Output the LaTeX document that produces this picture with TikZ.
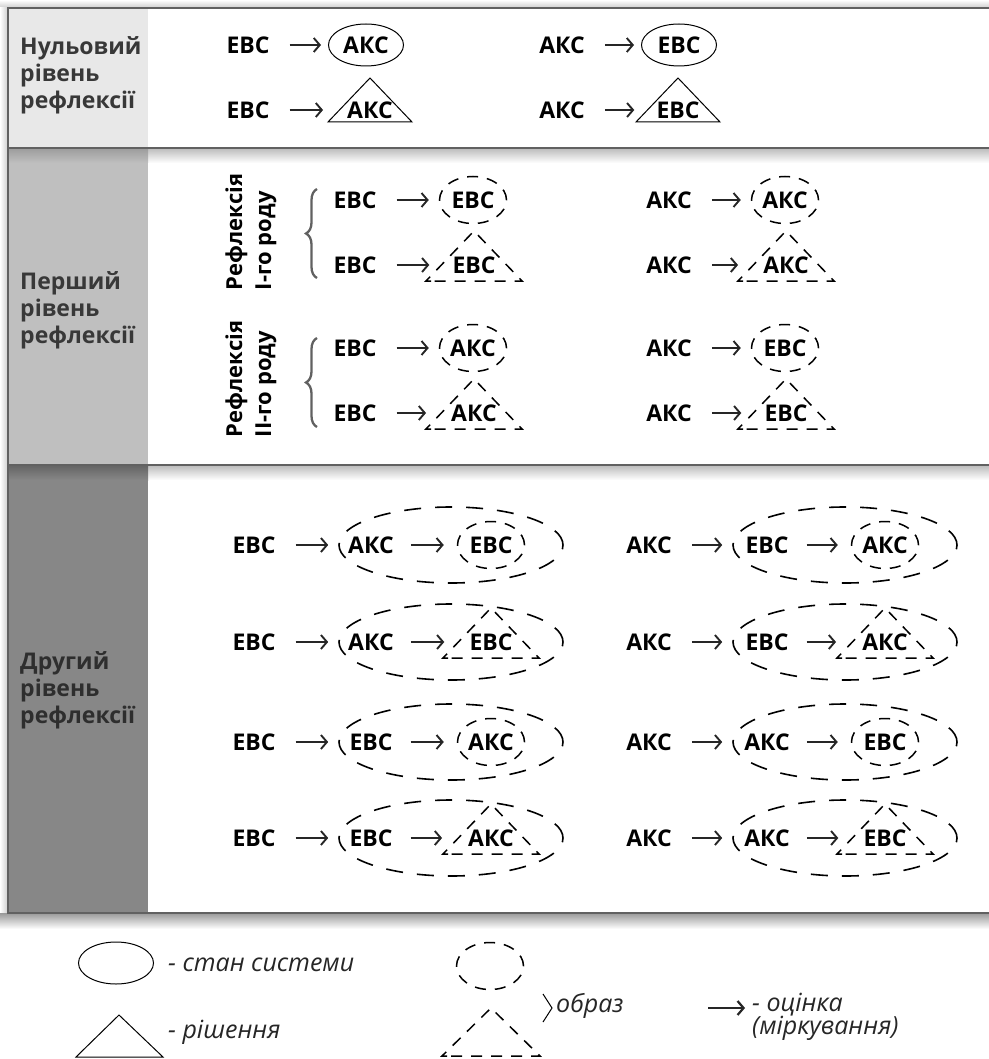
\documentclass[tikz,border=0pt]{standalone}
\usepackage{fontspec}
\setmainfont{Open Sans}
\usetikzlibrary{shapes.geometric,arrows.meta,calc,decorations.pathreplacing}

\tikzset{
  lbl/.style={font=\fontsize{23}{27}\selectfont\bfseries, inner sep=0pt},
  lvl/.style={font=\fontsize{23}{27}\selectfont\bfseries, text=black!78, align=left, anchor=west, inner sep=0pt},
  kind/.style={font=\fontsize{22}{29}\selectfont\bfseries, align=left, rotate=90, inner sep=0pt},
  leg/.style={font=\fontsize{25}{23}\selectfont\itshape, text=black!85, align=left, inner sep=0pt},
  arr/.style={line width=1.9pt, draw=black!85, -{Straight Barb[length=6pt,width=14pt]}},
  link/.style={arr, shorten <=20pt, shorten >=7pt},
  stell/.style={lbl, ellipse, draw, line width=1pt, minimum width=75pt, minimum height=42pt},
  imgline/.style={line width=1.5pt, dash pattern=on 11pt off 9pt},
  imgell/.style={lbl, ellipse, draw, imgline, minimum width=67pt, minimum height=47pt},
  bigell/.style={ellipse, draw, line width=1.6pt, dash pattern=on 17pt off 14pt, minimum width=224pt, minimum height=76pt, inner sep=0pt},
  rim/.style={line width=1.6pt, draw=black!62},
  brc/.style={decorate, decoration={brace, amplitude=11pt}, line width=2.3pt, draw=black!62}
}

\newcommand{\soltri}[1]{\draw[line width=1pt] ($(#1)+(-42,12)$) -- ($(#1)+(0,-32)$) -- ($(#1)+(42,12)$) -- cycle;}
\newcommand{\imgtri}[1]{\draw[imgline] ($(#1)+(-43,16)$) -- ($(#1)+(-48,16)$) -- ($(#1)+(0,-34)$) -- ($(#1)+(48,16)$) -- cycle;}

\begin{document}
\begin{tikzpicture}[x=1pt,y=-1pt]
  \useasboundingbox (0,0) rectangle (988,1059);

  %---------------------
  % table background
  %---------------------
  \fill[black!9] (8,8) rectangle (148,148);
  \fill[black!25] (8,148) rectangle (148,465);
  \fill[black!47] (8,465) rectangle (148,913);

  % shadows
  \shade[top color=white, bottom color=black!20] (0,0) rectangle (990,8);
  \shade[left color=white, right color=black!20] (0,8) rectangle (8,925);
  \shade[top color=black!40, bottom color=white] (0,913) rectangle (990,929);
  \shade[top color=black!25, bottom color=white] (148,149) rectangle (990,163);
  \shade[top color=black!38, bottom color=black!25] (8,149) rectangle (148,163);
  \shade[top color=black!25, bottom color=white] (148,466) rectangle (990,480);
  \shade[top color=black!60, bottom color=black!47] (8,466) rectangle (148,480);

  % lines
  \draw[rim] (990,8) -- (8,8) -- (8,913) -- (990,913);
  \draw[rim] (8,148) -- (990,148);
  \draw[rim] (8,465) -- (990,465);

  % level labels
  \node[lvl] (lv0) at (20,75) {Нульовий\\рівень\\рефлексії};
  \node[lvl] (lv1) at (20,310) {Перший\\рівень\\рефлексії};
  \node[lvl, text=black!82] (lv2) at (20,690) {Другий\\рівень\\рефлексії};

  %---------------------
  % zero level
  %---------------------
  \node[lbl] (n1) at (248,45) {ЕВС};
  \node[stell] (n1a) at (366,45) {АКС};
  \draw[link] (n1) -- (n1a);

  \node[lbl] (n2) at (248,110) {ЕВС};
  \node[lbl] (n2a) at (370,110) {АКС};
  \soltri{n2a}
  \draw[link, shorten >=24pt] (n2) -- (n2a);

  \node[lbl] (n3) at (562,45) {АКС};
  \node[stell] (n3a) at (679,45) {ЕВС};
  \draw[link] (n3) -- (n3a);

  \node[lbl] (n4) at (562,110) {АКС};
  \node[lbl] (n4a) at (678,110) {ЕВС};
  \soltri{n4a}
  \draw[link, shorten >=22pt] (n4) -- (n4a);

  %---------------------
  % first level
  %---------------------
  \node[kind] (k1) at (251,232) {Рефлексія\\I-го роду};
  \node[kind] (k2) at (251,379) {Рефлексія\\II-го роду};
  \draw[brc] (317,278) -- (317,189);
  \draw[brc] (317,427) -- (317,338);

  % I kind
  \node[lbl] (p1) at (355,200) {ЕВС};
  \node[imgell] (p1a) at (473,200) {ЕВС};
  \draw[link, shorten >=10pt] (p1) -- (p1a);

  \node[lbl] (p2) at (355,265) {ЕВС};
  \node[lbl] (p2a) at (474,265) {ЕВС};
  \imgtri{p2a}
  \draw[link, shorten >=23pt] (p2) -- (p2a);

  \node[lbl] (p3) at (669,200) {АКС};
  \node[imgell] (p3a) at (785,200) {АКС};
  \draw[link, shorten >=10pt] (p3) -- (p3a);

  \node[lbl] (p4) at (669,265) {АКС};
  \node[lbl] (p4a) at (786,265) {АКС};
  \imgtri{p4a}
  \draw[link, shorten >=25pt] (p4) -- (p4a);

  % II kind
  \node[lbl] (p5) at (355,348) {ЕВС};
  \node[imgell] (p5a) at (473,348) {АКС};
  \draw[link, shorten >=10pt] (p5) -- (p5a);

  \node[lbl] (p6) at (355,413) {ЕВС};
  \node[lbl] (p6a) at (474,413) {АКС};
  \imgtri{p6a}
  \draw[link, shorten >=25pt] (p6) -- (p6a);

  \node[lbl] (p7) at (669,348) {АКС};
  \node[imgell] (p7a) at (785,348) {ЕВС};
  \draw[link, shorten >=10pt] (p7) -- (p7a);

  \node[lbl] (p8) at (669,413) {АКС};
  \node[lbl] (p8a) at (786,413) {ЕВС};
  \imgtri{p8a}
  \draw[link, shorten >=23pt] (p8) -- (p8a);

  %---------------------
  % second level
  %---------------------
  % left
  \node[lbl] (d1) at (254,545) {ЕВС};
  \node[bigell] (d1b) at (451,545) {};
  \node[lbl] (d1a) at (371,545) {АКС};
  \node[imgell] (d1c) at (491,545) {ЕВС};
  \draw[link, shorten >=10pt] (d1) -- (d1b);
  \draw[link, shorten <=17pt, shorten >=13pt] (d1a) -- (d1c);

  \node[lbl] (d2) at (254,642) {ЕВС};
  \node[bigell] (d2b) at (451,642) {};
  \node[lbl] (d2a) at (371,642) {АКС};
  \node[lbl] (d2c) at (491,642) {ЕВС};
  \imgtri{d2c}
  \draw[link, shorten >=10pt] (d2) -- (d2b);
  \draw[link, shorten <=17pt, shorten >=25pt] (d2a) -- (d2c);

  \node[lbl] (d3) at (254,742) {ЕВС};
  \node[bigell] (d3b) at (451,742) {};
  \node[lbl] (d3a) at (371,742) {ЕВС};
  \node[imgell] (d3c) at (491,742) {АКС};
  \draw[link, shorten >=10pt] (d3) -- (d3b);
  \draw[link, shorten <=18pt, shorten >=13pt] (d3a) -- (d3c);

  \node[lbl] (d4) at (254,838) {ЕВС};
  \node[bigell] (d4b) at (451,838) {};
  \node[lbl] (d4a) at (371,838) {ЕВС};
  \node[lbl] (d4c) at (491,838) {АКС};
  \imgtri{d4c}
  \draw[link, shorten >=10pt] (d4) -- (d4b);
  \draw[link, shorten <=18pt, shorten >=26pt] (d4a) -- (d4c);

  % right
  \node[lbl] (d5) at (649,545) {АКС};
  \node[bigell] (d5b) at (845,545) {};
  \node[lbl] (d5a) at (767,545) {ЕВС};
  \node[imgell] (d5c) at (885,545) {АКС};
  \draw[link, shorten >=10pt] (d5) -- (d5b);
  \draw[link, shorten <=18pt, shorten >=13pt] (d5a) -- (d5c);

  \node[lbl] (d6) at (649,642) {АКС};
  \node[bigell] (d6b) at (845,642) {};
  \node[lbl] (d6a) at (767,642) {ЕВС};
  \node[lbl] (d6c) at (885,642) {АКС};
  \imgtri{d6c}
  \draw[link, shorten >=10pt] (d6) -- (d6b);
  \draw[link, shorten <=18pt, shorten >=26pt] (d6a) -- (d6c);

  \node[lbl] (d7) at (649,742) {АКС};
  \node[bigell] (d7b) at (845,742) {};
  \node[lbl] (d7a) at (767,742) {АКС};
  \node[imgell] (d7c) at (885,742) {ЕВС};
  \draw[link, shorten >=10pt] (d7) -- (d7b);
  \draw[link, shorten <=17pt, shorten >=13pt] (d7a) -- (d7c);

  \node[lbl] (d8) at (649,838) {АКС};
  \node[bigell] (d8b) at (845,838) {};
  \node[lbl] (d8a) at (767,838) {АКС};
  \node[lbl] (d8c) at (885,838) {ЕВС};
  \imgtri{d8c}
  \draw[link, shorten >=10pt] (d8) -- (d8b);
  \draw[link, shorten <=17pt, shorten >=25pt] (d8a) -- (d8c);

  %---------------------
  % legend
  %---------------------
  \node[stell] (lg1) at (116,963) {};
  \node[leg, anchor=west] (lg1t) at (168,965) {- стан системи};
  \draw[line width=1pt] (76,1057) -- (119,1015) -- (163,1057) -- cycle;
  \node[leg, anchor=west] (lg2t) at (168,1032) {- рішення};

  \node[imgell] (lg3) at (490,966) {};
  \draw[imgline] (447,1056) -- (442,1056) -- (491,1008) -- (540,1056) -- cycle;
  \draw[line width=1pt] (543,994) -- (552,1008) -- (543,1022);
  \node[leg, anchor=west] (lg3t) at (556,1006) {образ};

  \coordinate (lga) at (708,1008);
  \coordinate (lgb) at (745,1008);
  \draw[arr, line width=2.2pt] (lga) -- (lgb);
  \node[leg, anchor=north west] (lg4t) at (752,993) {- оцінка\\(міркування)};
\end{tikzpicture}
\end{document}
